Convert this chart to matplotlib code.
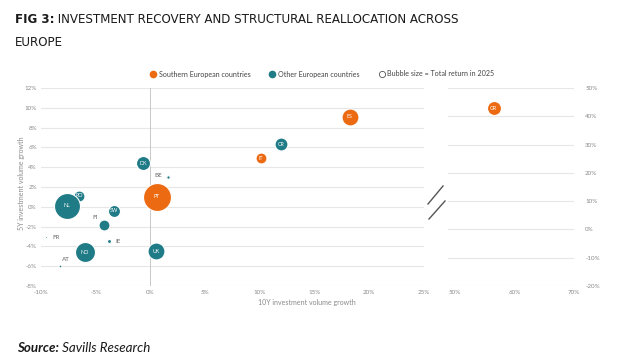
import matplotlib
matplotlib.use("Agg")
from matplotlib import pyplot as plt
from matplotlib.lines import Line2D
import numpy as np

# data
countries = ['PT', 'IT', 'ES', 'GR',
             'DK', 'BE', 'CR', 'RO', 'NL', 'SW', 'FI', 'IE', 'FR', 'NO', 'UK', 'AT']
groups = ['south'] * 4 + ['other'] * 12
growth_10y = [0.6, 10.1, 18.2, 56.5,
              -0.7, 1.6, 11.9, -6.5, -7.6, -3.3, -4.2, -3.8, -9.5, -6.0, 0.5, -8.3]
growth_5y = [1.0, 4.9, 9.1, 42.9,
             4.4, 3.0, 6.3, 1.1, 0.1, -0.4, -1.8, -3.5, -3.1, -4.6, -4.5, -6.0]
total_return = [19.6, 3.0, 7.2, 4.9,
                4.9, 0.3, 4.2, 3.0, 16.9, 3.6, 3.0, 0.4, 0.1, 10.0, 7.2, 0.2]

left_xticks = [-10, -5, 0, 5, 10, 15, 20, 25]
left_yticks = [-8, -6, -4, -2, 0, 2, 4, 6, 8, 10, 12]
right_xticks = [50, 60, 70]
right_yticks = [-20, -10, 0, 10, 20, 30, 40, 50]

ORANGE = '#ec6b12'
TEAL = '#1f7b86'
GRID = '#e6e6e6'
TICK = '#8a8a8a'
FONT = 'Lato'

# labels drawn outside small bubbles (offset in points)
outside = {'BE': (-4, 1, 'right'), 'FI': (-5, 5, 'right'), 'IE': (5, 0, 'left'),
           'FR': (4, 0, 'left'), 'AT': (2, 5, 'left')}

plt.rcParams['font.family'] = [FONT, 'DejaVu Sans']

fig = plt.figure(figsize=(6.24, 3.63), dpi=100)
ax1 = fig.add_axes([41 / 624, 1 - 286 / 363, (424 - 41) / 624, (286 - 88) / 363])
ax2 = fig.add_axes([448 / 624, 1 - 286 / 363, (574 - 448) / 624, (286 - 88) / 363])


def style(ax):
    for s in ax.spines.values():
        s.set_visible(False)
    ax.tick_params(length=0, labelsize=4.5, labelcolor=TICK, pad=3)
    ax.grid(axis='y', color=GRID, linewidth=0.8)
    ax.set_axisbelow(True)


ax1.set_xlim(-10, 25)
ax1.set_ylim(-8, 12)
ax1.set_xticks(left_xticks)
ax1.set_xticklabels(['%d%%' % t for t in left_xticks])
ax1.set_yticks(left_yticks)
ax1.set_yticklabels(['%d%%' % t for t in left_yticks])
style(ax1)
ax1.axvline(0, color='#c8c8c8', linewidth=0.7, zorder=1)

ax2.set_xlim(48.8, 70)
ax2.set_ylim(-20, 50)
ax2.set_xticks(right_xticks)
ax2.set_xticklabels(['%d%%' % t for t in right_xticks])
ax2.set_yticks(right_yticks)
ax2.set_yticklabels(['%d%%' % t for t in right_yticks])
ax2.yaxis.tick_right()
style(ax2)
ax2.tick_params(axis='y', pad=8)

for i, c in enumerate(countries):
    ax = ax1 if growth_10y[i] <= 25 else ax2
    col = ORANGE if groups[i] == 'south' else TEAL
    ax.scatter(growth_10y[i], growth_5y[i], s=total_return[i] * 20.7, color=col,
               edgecolor='white', linewidth=0.8, zorder=3)
    if c in outside:
        dx, dy, ha = outside[c]
        ax.annotate(c, (growth_10y[i], growth_5y[i]), xytext=(dx, dy),
                    textcoords='offset points', ha=ha, va='center',
                    fontsize=4.5, color='#666666', zorder=4)
    else:
        ax.text(growth_10y[i], growth_5y[i], c, ha='center', va='center',
                fontsize=3.8, color='white', zorder=4)

# axis titles
fig.text(307 / 624, 1 - 303 / 363, '10Y investment volume growth', ha='center',
         va='center', fontsize=5, color=TICK)
fig.text(22 / 624, 1 - 183 / 363, '5Y investment volume growth', ha='center',
         va='center', rotation=90, fontsize=5, color=TICK)

# axis break marks
for (x0, y0, x1, y1) in [(428, 204, 443, 186), (429, 219, 445, 201)]:
    fig.add_artist(Line2D([x0 / 624, x1 / 624], [1 - y0 / 363, 1 - y1 / 363],
                          color='#555555', linewidth=1.0))

# legend
handles = [
    Line2D([], [], marker='o', linestyle='', markersize=4.5, color=ORANGE),
    Line2D([], [], marker='o', linestyle='', markersize=4.5, color=TEAL),
    Line2D([], [], marker='o', linestyle='', markersize=4.5, markerfacecolor='white',
           markeredgecolor='#555555', markeredgewidth=0.6),
]
fig.legend(handles, ['Southern European countries', 'Other European countries',
                     'Bubble size = Total return in 2025'],
           loc='center', bbox_to_anchor=(322 / 624, 1 - 74 / 363), ncol=3, frameon=False,
           fontsize=5.1, handletextpad=0.3, columnspacing=2.6, handlelength=1.0,
           labelcolor='#444444')

# title
TFONT = ['DejaVu Sans']
t1 = fig.text(15 / 624, 1 - 23 / 363, 'FIG 3:', fontsize=8.6, fontweight='bold',
              family=TFONT, color='#1a1a1a', va='baseline')
ax1.annotate(' INVESTMENT RECOVERY AND STRUCTURAL REALLOCATION ACROSS', xy=(1, 0),
             xycoords=t1, va='bottom', ha='left', fontsize=8.6, family=TFONT,
             color='#1a1a1a', annotation_clip=False)
fig.text(15 / 624, 1 - 46 / 363, 'EUROPE', fontsize=8.6, family=TFONT, color='#1a1a1a',
         va='baseline')

# source
s1 = fig.text(17 / 624, 1 - 352 / 363, 'Source:', fontsize=9.6, fontweight='bold',
              fontstyle='italic', color='#1a1a1a', va='baseline')
ax1.annotate(' Savills Research', xy=(1, 0), xycoords=s1, va='bottom', ha='left',
             fontsize=9.6, fontstyle='italic', color='#1a1a1a', annotation_clip=False)

fig.savefig('out.png', dpi=100)
